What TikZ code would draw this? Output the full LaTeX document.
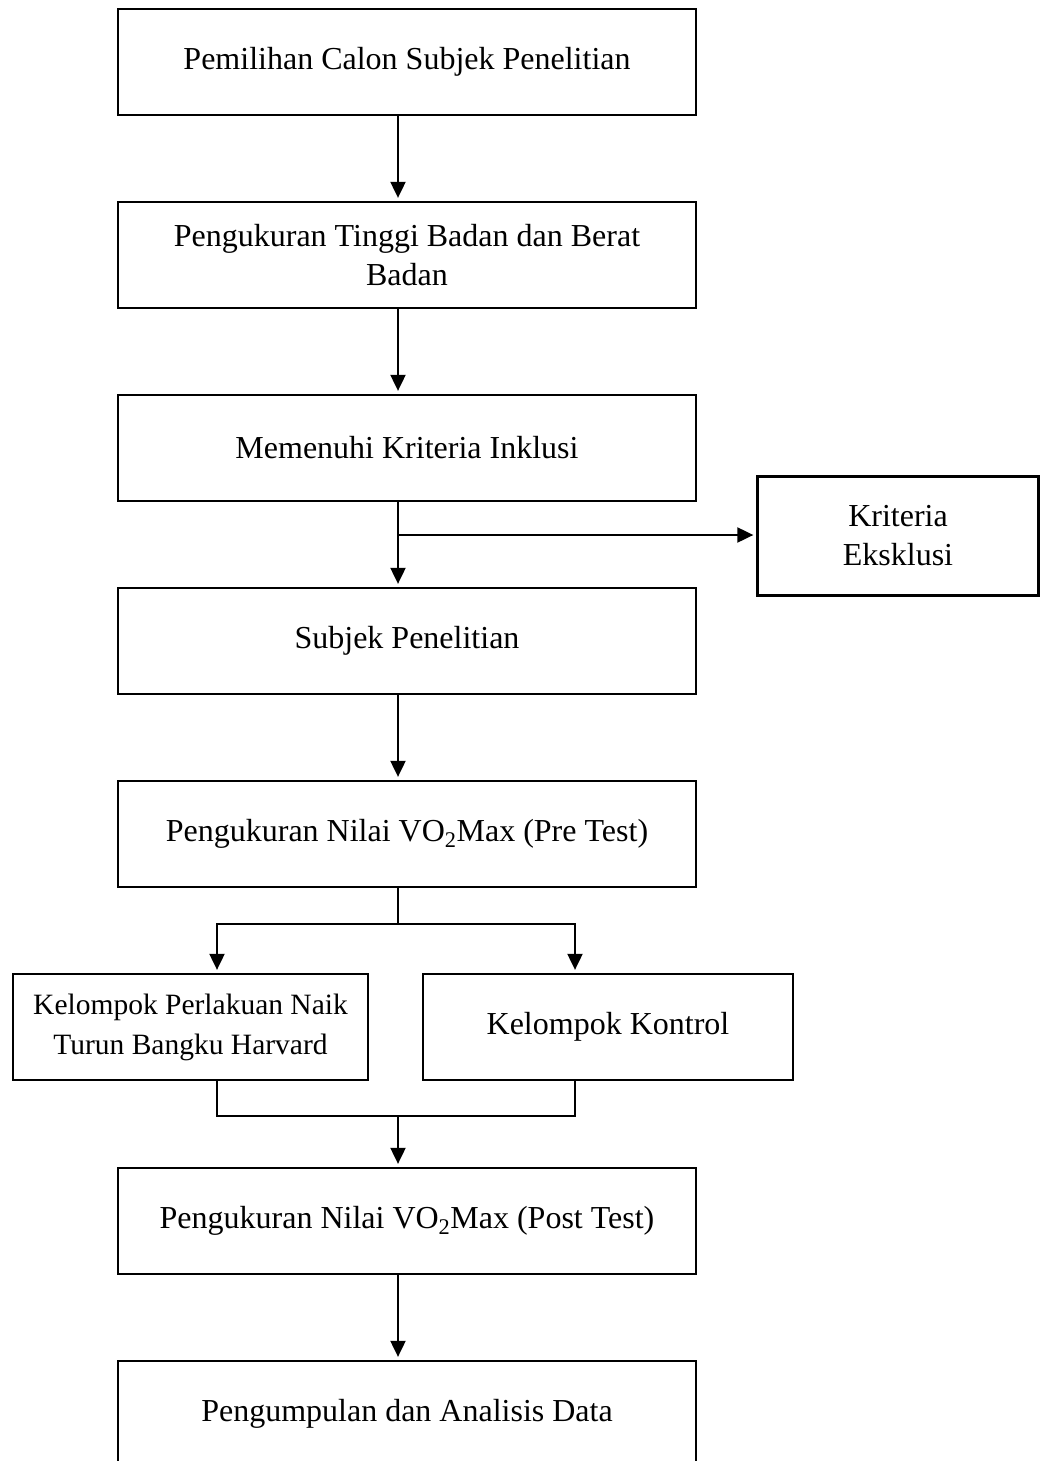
\documentclass[tikz,border=0pt]{standalone}
\usepackage{fontspec}
\setmainfont{Liberation Serif}
\usetikzlibrary{positioning,arrows.meta}

\begin{document}
\begin{tikzpicture}[x=1pt,y=-1pt,node distance=193pt,line width=2pt,
    >={Triangle[length=16pt,width=15pt]},
    box/.style={draw,line width=2.3pt,minimum width=578pt,minimum height=106pt,align=center,
      font=\fontsize{32}{39}\selectfont},
    flow/.style={->,shorten >=3pt}]
      \useasboundingbox (0,0) rectangle (1039,1461);

      \node (pilih)    [box] at (407,62)       {Pemilihan Calon Subjek Penelitian};
      \node (tinggi)   [box, below of=pilih]   {Pengukuran Tinggi Badan dan Berat\\Badan};
      \node (inklusi)  [box, below of=tinggi]  {Memenuhi Kriteria Inklusi};
      \node (subjek)   [box, below of=inklusi] {Subjek Penelitian};
      \node (pretest)  [box, below of=subjek]  {Pengukuran Nilai VO\textsubscript{2}Max (Pre Test)};
      \node (harvard)  [box, below of=pretest, xshift=-216.5pt, minimum width=355pt,
                        font=\fontsize{29.5}{40}\selectfont]
                                               {Kelompok Perlakuan Naik\\Turun Bangku Harvard};
      \node (kontrol)  [box, below of=pretest, xshift=201pt, minimum width=370pt]
                                               {Kelompok Kontrol};
      \node (posttest) [box, below of=pretest, yshift=-194pt]
                                               {Pengukuran Nilai VO\textsubscript{2}Max (Post Test)};
      \node (data)     [box, below of=posttest] {Pengumpulan dan Analisis Data};
      \node (eksklusi) [box, minimum width=281pt, minimum height=119pt] at (898,536)
                                               {Kriteria\\Eksklusi};

      \coordinate (ax)     at (398,0);
      \coordinate (lx)     at (217,0);
      \coordinate (rx)     at (575,0);
      \coordinate (cabang) at (398,535);
      \coordinate (bagi)   at (398,924);
      \coordinate (gabung) at (398,1116);

      \draw [flow] (pilih.south -| ax)   to (tinggi.north -| ax);
      \draw [flow] (tinggi.south -| ax)  to (inklusi.north -| ax);
      \draw [flow] (inklusi.south -| ax) to (subjek.north -| ax);
      \draw [flow] (cabang)              to (eksklusi.west |- cabang);
      \draw [flow] (subjek.south -| ax)  to (pretest.north -| ax);

      \draw        (pretest.south -| ax) to (bagi);
      \draw [flow] (bagi) -| (harvard.north -| lx);
      \draw [flow] (bagi) -| (kontrol.north -| rx);

      \draw        (harvard.south -| lx) |- (gabung) -| (kontrol.south -| rx);
      \draw [flow] (gabung)              to (posttest.north -| ax);
      \draw [flow] (posttest.south -| ax) to (data.north -| ax);
    \end{tikzpicture}
\end{document}
